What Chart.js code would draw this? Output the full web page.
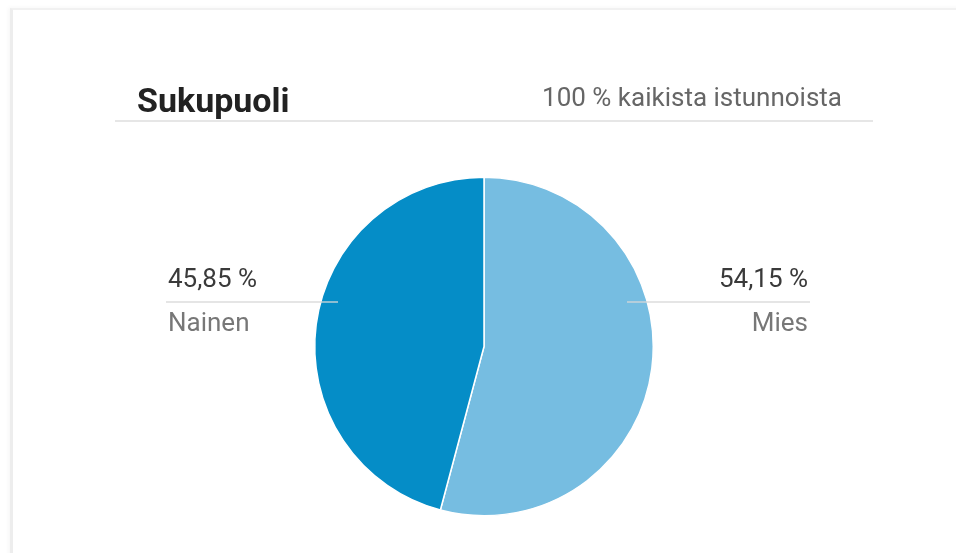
<!DOCTYPE html>
<html>
<head>
<meta charset="utf-8">
<script src="https://cdn.jsdelivr.net/npm/chart.js@4.4.0/dist/chart.umd.min.js"></script>
<style>
  html, body { margin: 0; padding: 0; background: #fff; }
  body { width: 956px; height: 553px; overflow: hidden; position: relative; font-family: Roboto, "Noto Sans", sans-serif; }
  .card {
    position: absolute; left: 10px; top: 8px; width: 1000px; height: 600px;
    border-left: 3px solid #ededed; border-top: 2px solid #f1f1f1;
    box-shadow: -2px -1px 4px rgba(0,0,0,0.03);
  }
  #wrap { position: absolute; left: 0; top: 0; width: 956px; height: 553px; }
</style>
</head>
<body>
<div class="card"></div>
<div id="wrap"><canvas id="genderChart"></canvas></div>
<script>
// Sukupuolijakauma
var labels = ['Mies', 'Nainen'];
var shares = [54.15, 45.85];
var colors = ['#76bde1', '#058dc7'];

var title = 'Sukupuoli';
var subtitle = '100 % kaikista istunnoista';

function fmt(v) {
    return v.toFixed(2).replace('.', ',') + ' %';
}

// otsikko, jakaja ja selitteet viivoineen
var annotations = {
    id: 'annotations',
    afterDatasetsDraw: function(chart) {
        var ctx = chart.ctx;
        ctx.save();

        ctx.fillStyle = '#222';
        ctx.font = 'bold 34px Roboto';
        ctx.textAlign = 'left';
        ctx.textBaseline = 'alphabetic';
        ctx.fillText(title, 137, 112);

        ctx.fillStyle = '#666';
        ctx.font = '26px Roboto';
        ctx.textAlign = 'right';
        ctx.fillText(subtitle, 842, 106);

        ctx.strokeStyle = '#e6e6e6';
        ctx.lineWidth = 2;
        ctx.beginPath();
        ctx.moveTo(115, 121);
        ctx.lineTo(873, 121);
        ctx.stroke();

        // selitteiden viivat
        ctx.strokeStyle = 'rgba(215,215,215,0.65)';
        ctx.lineWidth = 2;
        ctx.beginPath();
        ctx.moveTo(166, 302);
        ctx.lineTo(338, 302);
        ctx.moveTo(627, 302);
        ctx.lineTo(810, 302);
        ctx.stroke();

        // Nainen vasemmalla, Mies oikealla
        ctx.font = '26px Roboto';
        ctx.textAlign = 'left';
        ctx.fillStyle = '#3a3a3a';
        ctx.fillText(fmt(shares[1]), 168, 287);
        ctx.fillStyle = '#777';
        ctx.fillText(labels[1], 168, 331);

        ctx.textAlign = 'right';
        ctx.fillStyle = '#3a3a3a';
        ctx.fillText(fmt(shares[0]), 808, 287);
        ctx.fillStyle = '#777';
        ctx.fillText(labels[0], 808, 331);

        ctx.restore();
    }
};

var ctxGender = document.getElementById('genderChart').getContext('2d');
var genderChart = new Chart(ctxGender, {
    type: 'pie',
    data: {
        labels: labels,
        datasets: [{
            data: shares,
            backgroundColor: colors,
            borderColor: '#ffffff',
            borderWidth: 1.5
        }]
    },
    options: {
        responsive: true,
        maintainAspectRatio: false,
        animation: false,
        rotation: 0,
        layout: {
            padding: { left: 314, right: 302, top: 176, bottom: 36 }
        },
        plugins: {
            legend: { display: false },
            tooltip: { enabled: false }
        }
    },
    plugins: [annotations]
});
</script>
</body>
</html>
